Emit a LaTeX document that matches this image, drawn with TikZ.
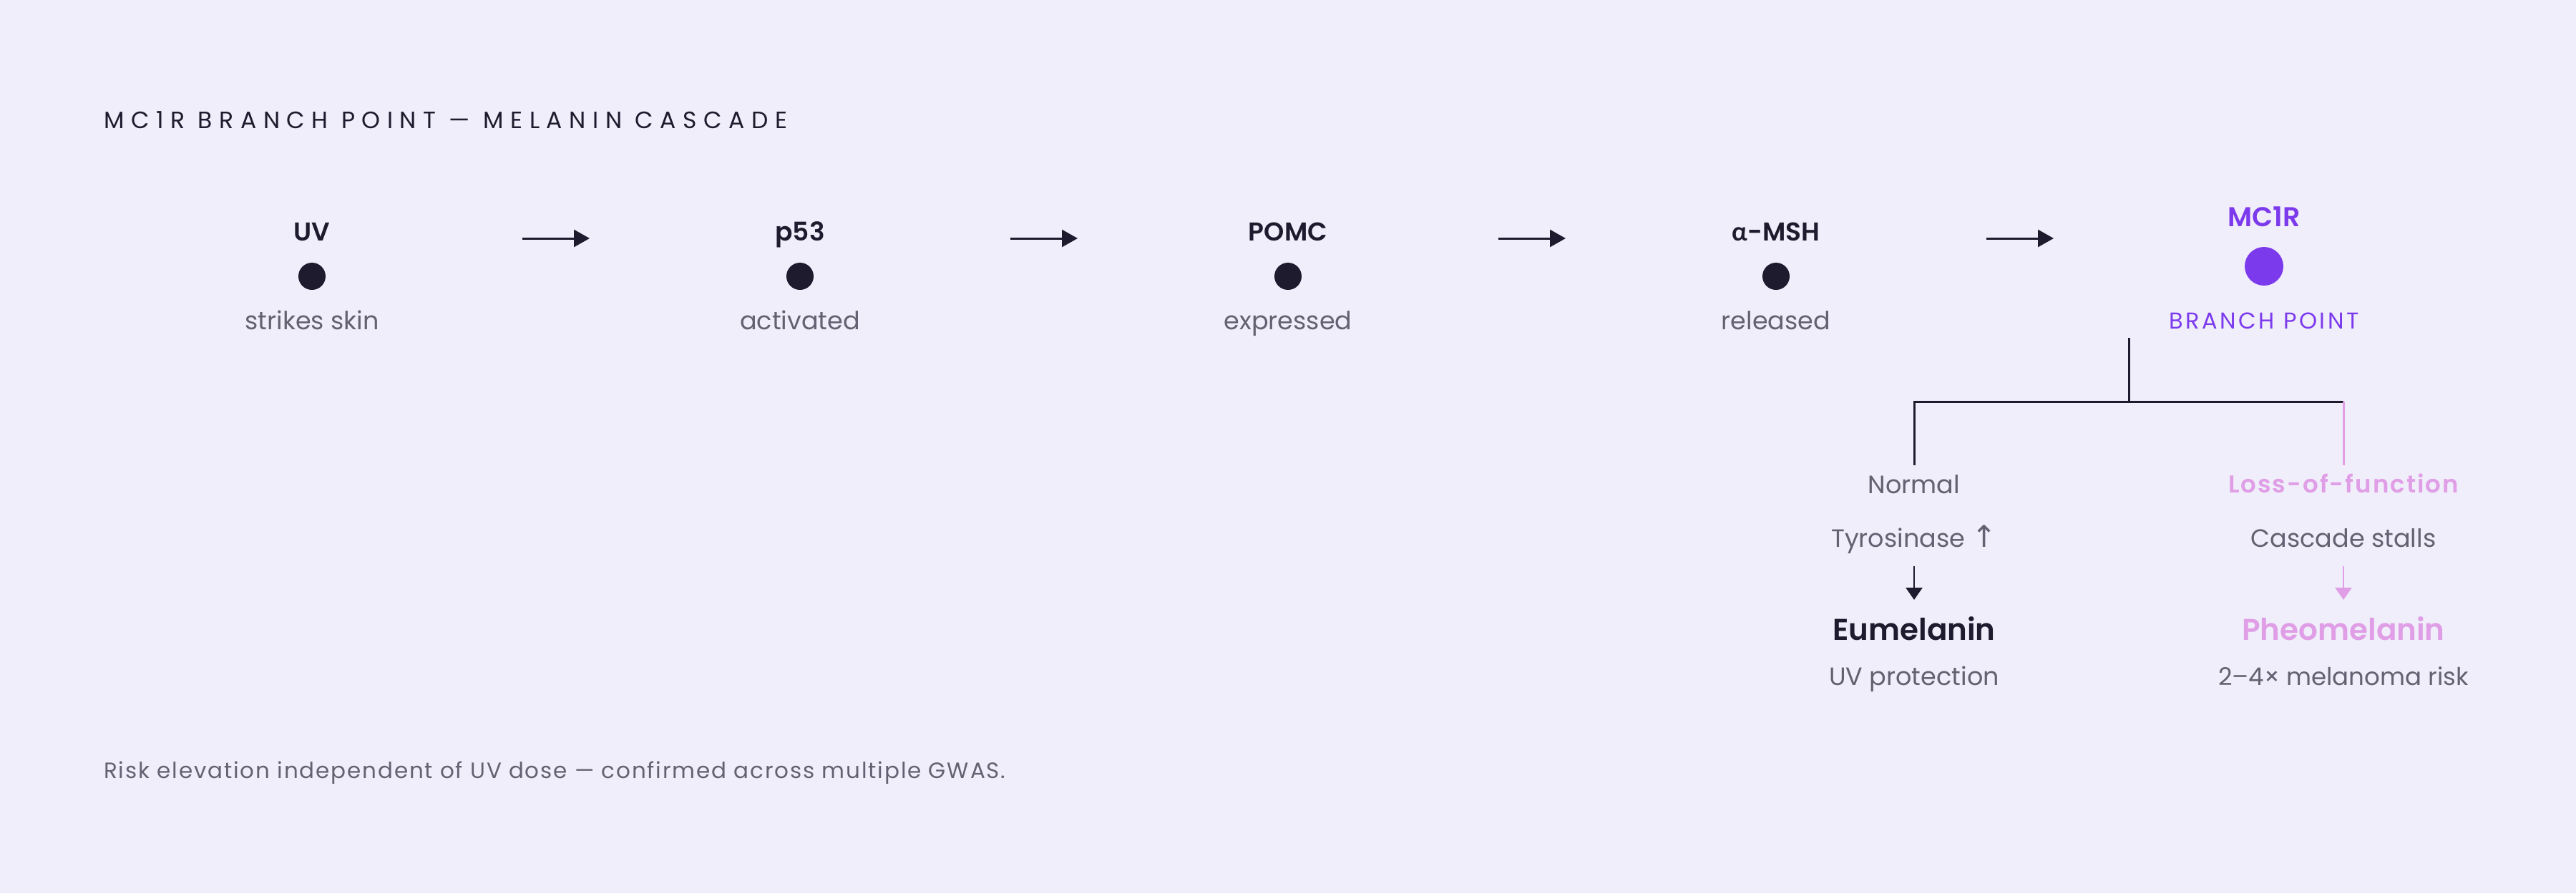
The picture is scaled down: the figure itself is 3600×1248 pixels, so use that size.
\documentclass[tikz,border=0pt]{standalone}
\usepackage{fontspec}
\setmainfont{Poppins}[BoldFont={Poppins SemiBold}]
\newfontfamily\greekfont{Lato}
\newfontfamily\arrowfont{DejaVu Sans}
\usetikzlibrary{arrows.meta}
\definecolor{bg}{HTML}{F0EEFA}
\definecolor{ink}{HTML}{1E1B2E}
\definecolor{muted}{HTML}{646172}
\definecolor{violet}{HTML}{7C3AED}
\definecolor{orchid}{HTML}{E09EE6}
\def\fs#1{\fontsize{#1}{#1}\selectfont}

\begin{document}
\begin{tikzpicture}[x=1pt,y=-1pt,
  headline/.style={anchor=base west,inner sep=0,text=ink,font=\fs{33}\addfontfeature{LetterSpace=29}},
  stagename/.style={anchor=base,inner sep=0,text=ink,font=\bfseries\fs{36}},
  stagedot/.style={circle,fill=ink,inner sep=0,minimum size=38pt},
  subtext/.style={anchor=base,inner sep=0,text=muted,font=\fs{35}},
  product/.style={anchor=base,inner sep=0,text=ink,font=\bfseries\fs{42}},
  flowarrow/.style={draw=ink,line width=3pt,-{Triangle[length=22pt,width=24pt]}},
  branchline/.style={draw=ink,line width=3pt},
  downarrow/.style={draw=ink,line width=2.5pt,-{Triangle[length=17pt,width=23pt]}}]
  \fill [bg] (0,0) rectangle (3600,1248);
  \node [headline] (title) at (145,179) {MC1R BRANCH POINT — MELANIN CASCADE};
  % cascade
  \foreach \n/\x/\t/\s in {uv/436/UV/strikes skin,p53/1118/p53/activated,pomc/1800/POMC/expressed,msh/2482/{{\greekfont\bfseries α}-MSH}/released}
  {
    \node [stagename] (\n) at (\x,336) {\t};
    \node [stagedot] (\n dot) at (\x,386) {};
    \node [subtext] (\n sub) at (\x,460) {\s};
  }
  \foreach \x [count=\i] in {436,1118,1800,2482}
  {
    \coordinate (a\i) at (\x+294,333);
    \coordinate (b\i) at (\x+388,333);
    \draw [flowarrow] (a\i) -- (b\i);
  }
  \node [stagename,text=violet,font=\bfseries\fs{38}] (mc1r) at (3164,316) {MC1R};
  \node [stagedot,fill=violet,minimum size=54pt] (mc1r dot) at (3164,372) {};
  \node [subtext,text=violet,font=\fs{32}\addfontfeature{LetterSpace=11}] (bp) at (3164,459) {BRANCH POINT};
  % branches
  \coordinate (stemtop) at (2975,472);
  \coordinate (fork) at (2975,561);
  \node [subtext] (normal) at (2675,689) {Normal};
  \node [subtext,text=orchid,font=\bfseries\fs{34}\addfontfeature{LetterSpace=6}] (lof) at (3275,688) {Loss-of-function};
  \node [subtext] (tyr) at (2675,764) {Tyrosinase {\arrowfont\fs{42}↑}};
  \node [subtext] (stall) at (3275,764) {Cascade stalls};
  \node [product] (eu) at (2675,894) {Eumelanin};
  \node [product,text=orchid] (pheo) at (3275,894) {Pheomelanin};
  \node [subtext] (uvp) at (2675,957) {UV protection};
  \node [subtext,font=\fs{34}] (risk) at (3275,957) {2–4× melanoma risk};
  \draw [branchline] (stemtop) -- (fork);
  \draw [branchline] (fork) -| ([yshift=39pt]normal.base);
  \draw [branchline] (fork) -- (fork -| lof.base);
  \draw [branchline,orchid] (fork -| lof.base) -- ([yshift=38pt]lof.base);
  \draw [downarrow] ([yshift=-27pt]tyr.base) -- ([yshift=56pt]eu.base);
  \draw [downarrow,orchid] ([yshift=-27pt]stall.base) -- ([yshift=56pt]pheo.base);
  \node [subtext,anchor=base west,font=\fs{31}\addfontfeature{LetterSpace=6}] (note) at (145,1087) {Risk elevation independent of UV dose — confirmed across multiple GWAS.};
\end{tikzpicture}
\end{document}
